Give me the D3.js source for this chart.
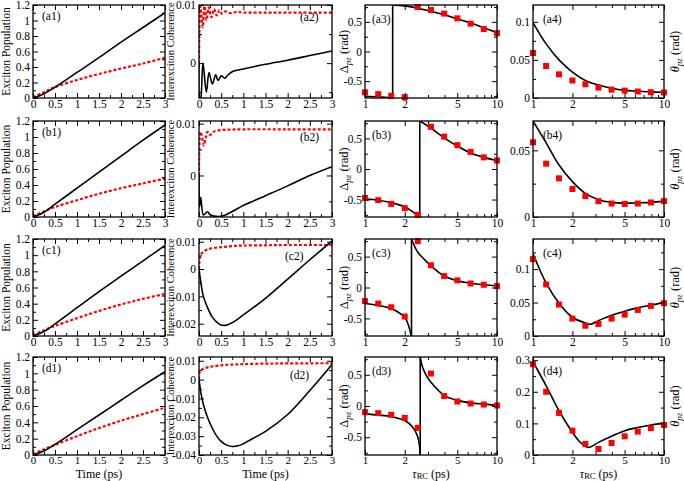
<!DOCTYPE html>
<html><head><meta charset="utf-8">
<script src="https://cdn.jsdelivr.net/npm/d3@7"></script>
<style>body{margin:0;background:#fff} svg{display:block} text{font-family:"Liberation Serif","Times New Roman",serif;}</style>
</head><body><svg id="c" width="684" height="481"></svg>
<script>
// ---------------- DATA ----------------
const rows = ["a","b","c","d"];
// Column 1: exciton population vs time
const popT = [0, 0.25, 0.5, 1, 1.5, 2, 2.5, 3];
const popBlack = [
  [0, 0.055, 0.14, 0.33, 0.52, 0.72, 0.91, 1.10],
  [0, 0.06, 0.16, 0.36, 0.56, 0.76, 0.96, 1.15],
  [0, 0.055, 0.15, 0.35, 0.55, 0.74, 0.93, 1.12],
  [0, 0.05, 0.13, 0.31, 0.49, 0.67, 0.85, 1.02]
];
const popRed = [
  [0.01, 0.075, 0.14, 0.233, 0.31, 0.38, 0.445, 0.52],
  [0.01, 0.07, 0.125, 0.21, 0.29, 0.36, 0.42, 0.48],
  [0.01, 0.07, 0.125, 0.22, 0.31, 0.39, 0.46, 0.52],
  [0.01, 0.07, 0.125, 0.23, 0.33, 0.42, 0.50, 0.58]
];
// Column 2: interexciton coherence vs time
const cohBlackT = [
  [0, 0.015, 0.04, 0.09, 0.166, 0.226, 0.30, 0.377, 0.43, 0.505, 0.58, 0.656, 0.77, 1, 1.5, 2, 2.5, 3],
  [0, 0.012, 0.04, 0.1, 0.19, 0.26, 0.45, 0.6, 1.02, 1.5, 2, 2.5, 3],
  [0, 0.05, 0.1, 0.2, 0.3, 0.4, 0.5, 0.6, 0.75, 1, 1.25, 1.5, 2, 2.5, 3],
  [0, 0.05, 0.1, 0.2, 0.3, 0.4, 0.5, 0.6, 0.75, 0.9, 1, 1.25, 1.5, 2, 2.5, 3]
];
const cohBlack = [
  [0, -0.0066, -0.0062, 0, -0.005, -0.0016, -0.0036, -0.002, -0.003, -0.0022, -0.0026, -0.002, -0.0014, -0.001, -0.0002, 0.0005, 0.0013, 0.0021],
  [0, -0.006, -0.0042, -0.0076, -0.007, -0.0076, -0.0079, -0.0076, -0.0057, -0.0039, -0.002, 0.0, 0.0017],
  [0, -0.0058, -0.0101, -0.0144, -0.0176, -0.0194, -0.0205, -0.0206, -0.0196, -0.0168, -0.0138, -0.0107, -0.0037, 0.0034, 0.0102],
  [0, -0.008, -0.0133, -0.0205, -0.0258, -0.0300, -0.0328, -0.0345, -0.0355, -0.0350, -0.0340, -0.0308, -0.0275, -0.0185, -0.0058, 0.008]
];
const cohRedT = [
  [0, 0.01, 0.025, 0.05, 0.085, 0.125, 0.17, 0.22, 0.28, 0.34, 0.4, 0.46, 0.52, 0.6, 0.7, 0.85, 1, 1.5, 2, 3],
  [0, 0.01, 0.03, 0.06, 0.11, 0.15, 0.19, 0.25, 0.32, 0.45, 0.6, 1, 2, 3],
  [0, 0.01, 0.03, 0.05, 0.1, 0.2, 0.3, 0.5, 0.75, 1, 1.5, 2, 3],
  [0, 0.005, 0.02, 0.05, 0.1, 0.2, 0.3, 0.5, 0.75, 1, 1.5, 2, 3]
];
const cohRed = [
  [0, 0.006, 0.0102, 0.0085, 0.0062, 0.0098, 0.0074, 0.0096, 0.0079, 0.0093, 0.0082, 0.0091, 0.0085, 0.0089, 0.0086, 0.0088, 0.0087, 0.0087, 0.0087, 0.0087],
  [0, 0.006, 0.0084, 0.0078, 0.0058, 0.0072, 0.0084, 0.0078, 0.0084, 0.0087, 0.0088, 0.0089, 0.0089, 0.0089],
  [0, 0.003, 0.0048, 0.0055, 0.0064, 0.0072, 0.0077, 0.008, 0.0084, 0.0086, 0.0087, 0.0088, 0.0088],
  [0, 0.003, 0.0042, 0.005, 0.0057, 0.0065, 0.007, 0.0076, 0.008, 0.0082, 0.0085, 0.0086, 0.0087]
];
// Columns 3 & 4: vs tau_RC
const tauPts = [1, 1.26, 1.58, 2, 2.51, 3.16, 3.98, 5.01, 6.31, 7.94, 10];
const phaseLeftX = [
  [1, 1.26, 1.5, 1.62],
  [1, 1.26, 1.58, 2, 2.3, 2.6],
  [1, 1.26, 1.58, 2, 2.1, 2.2, 2.25],
  [1, 1.26, 1.58, 2, 2.3, 2.5, 2.58, 2.62]
];
const phaseLeftY = [
  [-0.755, -0.765, -0.778, -0.785],
  [-0.49, -0.51, -0.55, -0.62, -0.70, -0.785],
  [-0.26, -0.29, -0.34, -0.485, -0.57, -0.71, -0.785],
  [-0.126, -0.145, -0.17, -0.233, -0.34, -0.485, -0.62, -0.785]
];
const phaseRightX = [
  [1.62, 2, 2.51, 3.16, 3.98, 5.01, 6.31, 7.94, 10],
  [2.6, 3.16, 3.98, 5.01, 6.31, 7.94, 10],
  [2.25, 2.51, 2.8, 3.16, 3.98, 5.01, 6.31, 7.94, 10],
  [2.62, 2.73, 2.93, 3.16, 3.98, 5.01, 6.31, 7.94, 10]
];
const phaseRightY = [
  [0.785, 0.77, 0.73, 0.68, 0.62, 0.55, 0.48, 0.40, 0.315],
  [0.785, 0.67, 0.51, 0.375, 0.26, 0.19, 0.14],
  [0.785, 0.57, 0.46, 0.35, 0.185, 0.11, 0.07, 0.045, 0.03],
  [0.785, 0.62, 0.48, 0.38, 0.17, 0.09, 0.05, 0.03, 0.01]
];
const phaseRed = [
  [-0.69, -0.72, -0.75, -0.77, 0.75, 0.70, 0.64, 0.56, 0.47, 0.38, 0.31],
  [-0.475, -0.51, -0.57, -0.64, -0.75, 0.69, 0.53, 0.39, 0.28, 0.19, 0.14],
  [-0.22, -0.26, -0.32, -0.47, 0.75, 0.36, 0.185, 0.115, 0.065, 0.044, 0.022],
  [-0.10, -0.115, -0.14, -0.19, -0.35, 0.52, 0.16, 0.072, 0.04, 0.024, 0.008]
];
const thetaBlackX = [
  tauPts, tauPts,
  [1, 1.26, 1.58, 2, 2.51, 2.75, 3.16, 3.98, 5.01, 6.31, 7.94, 10],
  [1, 1.26, 1.58, 2, 2.3, 2.63, 3.16, 3.98, 5.01, 6.31, 7.94, 10]
];
const thetaBlack = [
  [0.099, 0.071, 0.05, 0.034, 0.023, 0.017, 0.0127, 0.010, 0.0089, 0.008, 0.0076],
  [0.072, 0.0556, 0.039, 0.0265, 0.0177, 0.013, 0.011, 0.0104, 0.0106, 0.011, 0.0119],
  [0.123, 0.079, 0.049, 0.028, 0.0195, 0.0175, 0.023, 0.031, 0.037, 0.042, 0.046, 0.05],
  [0.295, 0.219, 0.14, 0.072, 0.04, 0.024, 0.04, 0.059, 0.077, 0.087, 0.095, 0.101]
];
const thetaRed = [
  [0.059, 0.042, 0.031, 0.023, 0.018, 0.0136, 0.011, 0.0097, 0.0085, 0.0076, 0.0072],
  [0.056, 0.040, 0.029, 0.021, 0.0157, 0.0119, 0.0101, 0.0098, 0.0101, 0.0109, 0.0119],
  [0.115, 0.077, 0.047, 0.026, 0.0154, 0.018, 0.026, 0.032, 0.039, 0.045, 0.049],
  [0.287, 0.20, 0.133, 0.077, 0.035, 0.019, 0.038, 0.059, 0.074, 0.085, 0.095]
];
// Axes: domains and tick labels
const timeDomain = [0, 3];
const timeTicks = [0, 0.5, 1, 1.5, 2, 2.5, 3];
const popDomain = [0, 1.2];
const popTicks = [0, 0.2, 0.4, 0.6, 0.8, 1, 1.2];
const cohDomains = [[-0.006, 0.01], [-0.008, 0.0105], [-0.0245, 0.011], [-0.04, 0.012]];
const cohTicks = [[0, 0.01], [0, 0.01], [-0.02, -0.01, 0, 0.01], [-0.04, -0.03, -0.02, -0.01, 0, 0.01]];
const tauDomain = [1, 10];
const tauTicks = [1, 2, 5, 10];
const tauMinor = [3, 4, 6, 7, 8, 9];
const phaseDomain = [-0.785, 0.785];
const phaseTicks = [-0.5, 0, 0.5];
const thetaDomains = [[0, 0.122], [0, 0.072], [0, 0.145], [0, 0.31]];
const thetaTicks = [[0, 0.05, 0.1], [0, 0.05], [0, 0.05, 0.1], [0, 0.1, 0.2, 0.3]];

// ---------------- LAYOUT ----------------
const svg = d3.select("#c");
const colX = [[33, 165], [199, 332], [365, 497], [533, 664]];
const rowY = [[5, 98], [121, 217], [239, 336], [357, 455]];
const FONT = '"Liberation Serif","Times New Roman",serif';
const fmt = v => String(+v.toFixed(4));
const RED = "#ff0000";

function minorOf(ticks, domain) {
  if (ticks.length < 2) return [];
  const step = ticks[1] - ticks[0];
  const out = [];
  for (let v = ticks[0] - step / 2; v >= domain[0] - 1e-9; v -= step) out.push(v);
  for (let v = ticks[0] + step / 2; v <= domain[1] + 1e-9; v += step) out.push(v);
  return out;
}

let clipN = 0;
function panel(ci, ri, cfg) {
  const [x0, x1] = colX[ci], [y0, y1] = rowY[ri];
  const x = cfg.log ? d3.scaleLog().domain(cfg.xDomain).range([x0, x1])
                    : d3.scaleLinear().domain(cfg.xDomain).range([x0, x1]);
  const y = d3.scaleLinear().domain(cfg.yDomain).range([y1, y0]);
  const g = svg.append("g");
  const id = "clip" + (clipN++);
  svg.append("clipPath").attr("id", id).append("rect")
    .attr("x", x0).attr("y", y0).attr("width", x1 - x0).attr("height", y1 - y0);
  const gl = g.append("g").attr("clip-path", `url(#${id})`);
  cfg.lines.forEach(L => {
    const line = d3.line().x(d => x(d[0])).y(d => y(d[1])).curve(L.curve || d3.curveCatmullRom);
    gl.append("path").attr("d", line(d3.zip(L.x, L.y)))
      .attr("fill", "none").attr("stroke", L.color).attr("stroke-width", L.w)
      .attr("stroke-dasharray", L.dash || null);
  });
  if (cfg.squares) {
    g.append("g").selectAll("rect").data(d3.zip(cfg.squares.x, cfg.squares.y)).join("rect")
      .attr("x", d => x(d[0]) - 3).attr("y", d => y(d[1]) - 3)
      .attr("width", 6).attr("height", 6).attr("fill", RED);
  }
  const xMinor = cfg.log ? tauMinor : minorOf(cfg.xTicks, cfg.xDomain);
  const yMinor = minorOf(cfg.yTicks, cfg.yDomain);
  const style = s => s.attr("font-family", FONT).attr("font-size", 11.5)
    .call(a => a.select(".domain").remove())
    .call(a => a.selectAll("line").attr("stroke-width", 1));
  const last = ri === 3;
  // bottom
  g.append("g").attr("transform", `translate(0,${y1})`)
    .call(d3.axisBottom(x).tickValues(cfg.xTicks).tickSize(-5).tickPadding(last ? 1 : 2).tickFormat(fmt)).call(style)
    .call(a => a.selectAll("text").attr("fill", "#000").attr("font-size", last ? 11 : null));
  g.append("g").attr("transform", `translate(0,${y1})`)
    .call(d3.axisBottom(x).tickValues(xMinor).tickSize(-3).tickFormat("")).call(style);
  // top
  g.append("g").attr("transform", `translate(0,${y0})`)
    .call(d3.axisTop(x).tickValues(cfg.xTicks).tickSize(-5).tickFormat("")).call(style);
  g.append("g").attr("transform", `translate(0,${y0})`)
    .call(d3.axisTop(x).tickValues(xMinor).tickSize(-3).tickFormat("")).call(style);
  // left
  g.append("g").attr("transform", `translate(${x0},0)`)
    .call(d3.axisLeft(y).tickValues(cfg.yTicks).tickSize(-5).tickPadding(3).tickFormat(fmt)).call(style)
    .call(a => a.selectAll("text").attr("fill", "#000"));
  g.append("g").attr("transform", `translate(${x0},0)`)
    .call(d3.axisLeft(y).tickValues(yMinor).tickSize(-3).tickFormat("")).call(style);
  // right
  g.append("g").attr("transform", `translate(${x1},0)`)
    .call(d3.axisRight(y).tickValues(cfg.yTicks).tickSize(-5).tickFormat("")).call(style);
  g.append("g").attr("transform", `translate(${x1},0)`)
    .call(d3.axisRight(y).tickValues(yMinor).tickSize(-3).tickFormat("")).call(style);
  // frame
  g.append("rect").attr("x", x0).attr("y", y0).attr("width", x1 - x0).attr("height", y1 - y0)
    .attr("fill", "none").attr("stroke", "#000").attr("stroke-width", 1.3);
  // panel label
  g.append("text").attr("x", cfg.labX).attr("y", y0 + cfg.labDy)
    .attr("font-family", FONT).attr("font-size", 11.5).text(cfg.label);
  return {x, y};
}

const BW = 1.6, RW = 2.2, DASH = "3,2";
const col2LabDy = [16, 20, 21, 22];
rows.forEach((r, i) => {
  // column 1
  panel(0, i, {
    xDomain: timeDomain, yDomain: popDomain, xTicks: timeTicks, yTicks: popTicks,
    lines: [
      {x: popT, y: popRed[i], color: RED, w: RW, dash: DASH},
      {x: popT, y: popBlack[i], color: "#000", w: BW}
    ],
    label: `(${r}1)`, labX: 42, labDy: 15
  });
  // column 2
  panel(1, i, {
    xDomain: timeDomain, yDomain: cohDomains[i], xTicks: timeTicks, yTicks: cohTicks[i],
    lines: [
      {x: cohRedT[i], y: cohRed[i], color: RED, w: RW, dash: DASH},
      {x: cohBlackT[i], y: cohBlack[i], color: "#000", w: BW}
    ],
    label: `(${r}2)`, labX: i === 2 ? 285 : (i === 3 ? 290 : 300), labDy: col2LabDy[i]
  });
  // column 3
  const lx = phaseLeftX[i], ly = phaseLeftY[i], rx = phaseRightX[i], ry = phaseRightY[i];
  panel(2, i, {
    log: true, xDomain: tauDomain, yDomain: phaseDomain, xTicks: tauTicks, yTicks: phaseTicks,
    lines: [
      {x: lx, y: ly, color: "#000", w: BW},
      {x: [lx[lx.length - 1], rx[0]], y: [ly[ly.length - 1], ry[0]], color: "#000", w: BW, curve: d3.curveLinear},
      {x: rx, y: ry, color: "#000", w: BW}
    ],
    squares: {x: tauPts, y: phaseRed[i]},
    label: `(${r}3)`, labX: 372, labDy: 18
  });
  // column 4
  panel(3, i, {
    log: true, xDomain: tauDomain, yDomain: thetaDomains[i], xTicks: tauTicks, yTicks: thetaTicks[i],
    lines: [{x: thetaBlackX[i], y: thetaBlack[i], color: "#000", w: BW}],
    squares: {x: tauPts, y: thetaRed[i]},
    label: `(${r}4)`, labX: 543, labDy: 18
  });
  // y-axis titles
  const cy = (rowY[i][0] + rowY[i][1]) / 2;
  const ytitle = (xx) => svg.append("text").attr("transform", `translate(${xx},${cy}) rotate(-90)`)
    .attr("text-anchor", "middle").attr("font-family", FONT).attr("font-size", 11.5);
  ytitle(10).text("Exciton Population");
  ytitle(174).attr("font-size", 10.5).text("Interexciton Coherence");
  const t3 = ytitle(348).attr("font-size", 12.5);
  t3.append("tspan").text("Δ");
  t3.append("tspan").attr("font-style", "italic").attr("font-size", 9).attr("dy", 3).text("pz");
  t3.append("tspan").attr("dy", -3).text(" (rad)");
  const t4 = ytitle(679).attr("font-size", 12.5);
  t4.append("tspan").attr("font-style", "italic").text("θ");
  t4.append("tspan").attr("font-style", "italic").attr("font-size", 9).attr("dy", 3).text("pz");
  t4.append("tspan").attr("dy", -3).text(" (rad)");
});
// x-axis titles
const xt = (cx) => svg.append("text").attr("x", cx).attr("y", 477.5).attr("text-anchor", "middle")
  .attr("font-family", FONT).attr("font-size", 12);
xt((colX[0][0] + colX[0][1]) / 2).text("Time (ps)");
xt((colX[1][0] + colX[1][1]) / 2).text("Time (ps)");
[2, 3].forEach(c => {
  const t = xt((colX[c][0] + colX[c][1]) / 2);
  t.append("tspan").attr("font-style", "italic").text("τ");
  t.append("tspan").attr("font-size", 8.5).attr("dy", 1.5).text("RC");
  t.append("tspan").attr("dy", -1.5).text(" (ps)");
});
</script></body></html>
